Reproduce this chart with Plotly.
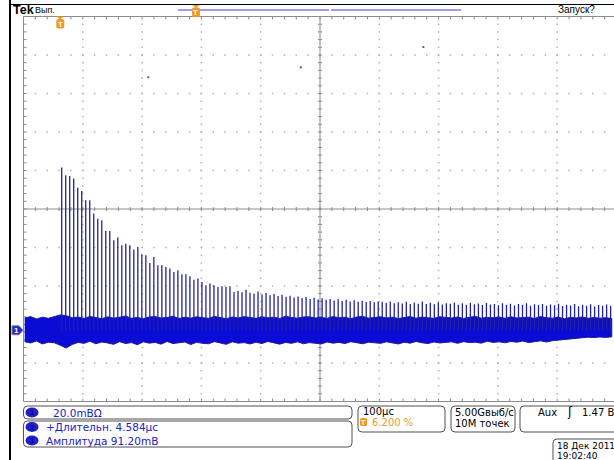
import numpy as np
import plotly.graph_objects as go

W, H = 614, 460

# ---- scope settings (as shown in the readouts) ----
mv_per_div = 20.0          # CH1 vertical scale, mV/div
us_per_div = 100.0         # horizontal scale, µs/div
trigger_pos_pct = 6.2      # trigger position, % of record
ch1_position_div = -3.15   # CH1 ground level, divisions from centre

# ---- acquired waveform ----
first_pulse_us = 2.4
pulse_period_us = 6.757
pulse_peaks_mv = [
    84.5, 80.5, 80.2, 78.8, 74.1, 72.4, 67.5, 67.5, 60.6, 58.0,
    57.1, 51.6, 51.6, 46.8, 48.2, 44.2, 45.0, 44.2, 41.9, 43.3,
    39.5, 39.0, 35.0, 38.1, 33.8, 33.8, 32.9, 32.1, 30.3, 31.2,
    29.1, 29.1, 28.1, 26.3, 26.9, 25.1, 23.4, 24.3, 23.4, 22.5,
    22.9, 22.5, 22.9, 19.9, 20.5, 19.8, 21.0, 19.5, 19.0, 20.2,
    18.6, 19.4, 18.2, 18.8, 17.8, 18.5, 17.4, 18.0, 17.0, 17.6,
    16.8, 17.3, 16.2, 16.9, 16.0, 16.6, 15.8, 16.3, 15.5, 16.1,
    15.2, 15.9, 15.0, 15.6, 14.8, 15.4, 14.7, 15.2, 14.5, 15.0,
    14.8, 14.2, 15.0, 14.0, 14.6, 13.9, 14.8, 13.7, 14.4, 13.8,
    14.9, 13.6, 14.3, 13.5, 14.6, 13.4, 14.1, 13.8, 14.4, 13.3,
    14.0, 13.2, 14.3, 13.5, 13.9, 13.1, 14.2, 13.4, 13.7, 13.0,
    14.1, 13.3, 13.8, 12.9, 13.6, 13.2, 14.0, 12.8, 13.5, 13.1,
    13.7, 12.7, 13.4, 13.0, 13.8, 12.6, 13.3, 12.9, 13.6, 12.5,
    13.2, 12.8, 13.5, 12.4, 13.1, 12.7, 13.4, 12.6,
]

noise_t_us = list(range(-60, 931, 10))
noise_hi_mv = [
    6.4, 7.1, 5.9, 6.8, 6.2, 7.3, 8.0, 7.6, 6.5, 6.9,
    6.1, 7.2, 6.6, 6.0, 7.0, 6.3, 6.8, 7.4, 6.2, 6.7,
    6.0, 6.9, 7.1, 6.4, 6.6, 7.3, 6.1, 6.8, 6.3, 7.0,
    6.5, 6.2, 7.2, 6.7, 6.0, 6.9, 6.4, 7.1, 6.6, 6.2,
    7.0, 6.5, 6.8, 6.1, 7.3, 6.6, 6.3, 6.9, 7.0, 6.4,
    6.7, 6.2, 7.1, 6.5, 6.8, 6.0, 6.9, 7.2, 6.3, 6.6,
    7.0, 6.4, 6.8, 6.1, 6.7, 7.1, 6.3, 6.9, 6.5, 6.2,
    7.0, 6.6, 6.4, 6.9, 6.1, 6.8, 7.2, 6.3, 6.7, 6.5,
    6.9, 6.2, 7.0, 6.4, 6.6, 6.8, 6.1, 7.1, 6.5, 6.3,
    6.8, 6.0, 6.7, 6.4, 6.9, 6.2, 6.6, 6.3, 6.5, 6.1,
]
noise_lo_mv = [
    -5.9, -6.6, -5.6, -7.1, -6.2, -6.5, -7.8, -9.2, -7.4, -6.3,
    -6.8, -5.7, -7.0, -6.1, -6.6, -7.3, -5.9, -6.9, -6.4, -7.5,
    -6.0, -6.7, -6.3, -7.2, -5.8, -6.9, -6.5, -6.1, -7.4, -6.2,
    -6.8, -7.0, -5.9, -6.6, -7.3, -6.0, -6.7, -6.4, -7.1, -6.2,
    -6.9, -5.8, -6.5, -7.2, -6.3, -6.8, -6.0, -7.0, -6.4, -6.6,
    -7.1, -6.1, -6.7, -6.3, -6.9, -5.9, -6.6, -7.0, -6.2, -6.5,
    -6.8, -6.0, -6.4, -7.1, -6.2, -6.7, -5.8, -6.5, -6.9, -6.1,
    -6.6, -6.3, -6.0, -6.8, -5.9, -6.4, -6.2, -6.7, -5.7, -6.3,
    -6.0, -6.5, -5.8, -6.2, -5.6, -6.4, -5.9, -5.5, -6.1, -5.4,
    -5.2, -4.8, -4.4, -4.1, -3.9, -3.6, -3.8, -3.5, -3.7, -3.4,
]

glitch_t_us = [148.4, 405.6, 612.3]
glitch_mv = [131.5, 136.7, 147.1]

# ---- screen geometry (pixels) ----
GX0, GY0 = 23.5, 16.5          # graticule top-left
DIV_W, DIV_H = 59.3, 38.5      # one division
GY1 = GY0 + 10 * DIV_H

def px(x):
    return x / W

def py(y):
    return 1 - y / H

x_dom = [px(GX0), 1.0]
y_dom = [py(GY1), py(GY0)]
div_right = -5 + (W - GX0) / DIV_W

t_left = -trigger_pos_pct / 100 * 10 * us_per_div
t_range = [t_left, t_left + (div_right + 5) * us_per_div]
v_range = [(-5 - ch1_position_div) * mv_per_div, (5 - ch1_position_div) * mv_per_div]

GRID = "#b2b2b2"
AXIS = "#8c8c8c"
fig = go.Figure()

# graticule dots along the major division lines
minor = np.round(np.arange(-4.8, 4.81, 0.2), 3)
dx, dy = [], []
for m in range(-4, 5):
    if m == 0:
        continue
    for s in minor:
        dx += [m, s]
        dy += [s, m]
fig.add_trace(go.Scatter(x=dx, y=dy, mode="markers",
                         marker=dict(symbol="square", size=1.5, color=GRID, line_width=0),
                         hoverinfo="skip", showlegend=False, xaxis="x", yaxis="y"))

# tick marks on centre cross and border
tx, ty = [], []
hx = 2.0 / DIV_W
hy = 2.0 / DIV_H
bx = 3.0 / DIV_W
by = 3.0 / DIV_H
for s in minor:
    tx += [s, s, None]; ty += [-hy, hy, None]
    tx += [-hx, hx, None]; ty += [s, s, None]
    tx += [s, s, None]; ty += [5, 5 - by, None]
    tx += [s, s, None]; ty += [-5, -5 + by, None]
    tx += [-5, -5 + bx, None]; ty += [s, s, None]
fig.add_trace(go.Scatter(x=tx, y=ty, mode="lines", line=dict(color=AXIS, width=1),
                         hoverinfo="skip", showlegend=False, xaxis="x", yaxis="y"))
fig.add_trace(go.Scatter(x=[0, 0, None, -5, 5], y=[-5, 5, None, 0, 0], mode="lines",
                         line=dict(color=AXIS, width=1), hoverinfo="skip",
                         showlegend=False, xaxis="x", yaxis="y"))

# ---- waveform (overlay axes in µs / mV) ----
band_x = noise_t_us + noise_t_us[::-1]
band_y = noise_hi_mv + noise_lo_mv[::-1]
fig.add_trace(go.Scatter(x=band_x, y=band_y, mode="lines", fill="toself",
                         fillcolor="#0b0bd6", line=dict(color="#1d1d96", width=1),
                         hoverinfo="skip", showlegend=False, xaxis="x2", yaxis="y2"))

pt = first_pulse_us + pulse_period_us * np.arange(len(pulse_peaks_mv))
sx, sy = [], []
for t, v in zip(pt, pulse_peaks_mv):
    sx += [t, t, None]
    sy += [0, v, None]
fig.add_trace(go.Scatter(x=sx, y=sy, mode="lines", line=dict(color="#22229e", width=1.3),
                         hoverinfo="skip", showlegend=False, xaxis="x2", yaxis="y2"))
fig.add_trace(go.Scatter(x=glitch_t_us, y=glitch_mv, mode="markers",
                         marker=dict(symbol="square", size=2, color="#5a5a7a", line_width=0),
                         hoverinfo="skip", showlegend=False, xaxis="x2", yaxis="y2"))

# ---- screen furniture ----
shapes = []
annots = []

def rrect(x0, y0, x1, y1, r=4):
    rx, ry = r / W, r / H
    X0, X1, Y0, Y1 = px(x0), px(x1), py(y0), py(y1)
    return (f"M {X0+rx},{Y0} L {X1-rx},{Y0} Q {X1},{Y0} {X1},{Y0-ry} "
            f"L {X1},{Y1+ry} Q {X1},{Y1} {X1-rx},{Y1} L {X0+rx},{Y1} "
            f"Q {X0},{Y1} {X0},{Y1+ry} L {X0},{Y0-ry} Q {X0},{Y0} {X0+rx},{Y0} Z")

def line(x0, y0, x1, y1, color, width=1):
    shapes.append(dict(type="line", xref="paper", yref="paper", x0=px(x0), y0=py(y0),
                       x1=px(x1), y1=py(y1), line=dict(color=color, width=width)))

FONT = "DejaVu Sans"

def text(x, y, s, color="black", size=10.5, anchor="left", bold=False, family=FONT):
    annots.append(dict(x=px(x), y=py(y), xref="paper", yref="paper", text=f"<b>{s}</b>" if bold else s,
                       showarrow=False, xanchor=anchor, yanchor="middle",
                       font=dict(family=family, size=size, color=color)))

# frame
line(10, 0, 10, H, "black", 2)
line(10, 4.5, W, 4.5, "black", 1)
shapes.append(dict(type="rect", xref="paper", yref="paper", x0=px(GX0), y0=py(GY1),
                   x1=px(W + 5), y1=py(GY0), line=dict(color=AXIS, width=1)))

# header
text(10.5, 10, "Tek", size=12.5, bold=True, family="Liberation Sans")
text(32.5, 9.5, "Вып.", size=9, family="Liberation Sans")
text(556, 9.5, "Запуск?", size=10, family="Liberation Sans")
line(178, 10, 329, 10, "#9d9df0", 2)
line(331, 10, 461, 10, "#9d9df0", 2)
trig_x = GX0 + trigger_pos_pct / 100 * 10 * DIV_W
for cx, cy0 in [(196, 5), (trig_x, 16.5)]:
    shapes.append(dict(type="path", xref="paper", yref="paper",
                       path=f"M {px(cx-3.5)},{py(cy0)} L {px(cx+3.5)},{py(cy0)} L {px(cx)},{py(cy0+3)} Z",
                       fillcolor="#f39a1e", line=dict(width=0)))
    shapes.append(dict(type="path", xref="paper", yref="paper", path=rrect(cx - 4, cy0 + 2.5, cx + 4, cy0 + 12, 2),
                       fillcolor="#f39a1e", line=dict(width=0)))
    text(cx, cy0 + 7.5, "T", color="white", size=8, anchor="center", bold=True, family="Liberation Sans")

# CH1 ground marker
gy_px = GY0 + (5 - ch1_position_div) * DIV_H
shapes.append(dict(type="path", xref="paper", yref="paper",
                   path=(f"M {px(12)},{py(gy_px-4.5)} L {px(19)},{py(gy_px-4.5)} L {px(23)},{py(gy_px)} "
                         f"L {px(19)},{py(gy_px+4.5)} L {px(12)},{py(gy_px+4.5)} Z"),
                   fillcolor="#2727d2", line=dict(color="#808080", width=1)))
text(16.5, gy_px, "1", color="white", size=8, anchor="center", bold=True, family="Liberation Sans")

# readout boxes
BOX = "#505050"
for b in [(23.5, 406, 352, 419), (23.5, 421, 352, 447), (358, 406, 445, 432),
          (451, 406, 515, 432), (520, 406, 640, 432), (553, 439, 640, 475)]:
    shapes.append(dict(type="path", xref="paper", yref="paper", path=rrect(*b, r=4),
                       line=dict(color=BOX, width=1), fillcolor="rgba(0,0,0,0)"))

BLUE = "#2121c4"
for cy in (412.5, 427, 440.5):
    shapes.append(dict(type="circle", xref="paper", yref="paper", x0=px(25.5), x1=px(38.5),
                       y0=py(cy - 5), y1=py(cy + 5), fillcolor="#1f1fcf", line=dict(width=0)))
    text(32, cy, "1", color="#0a0a60", size=8, anchor="center", bold=True, family="Liberation Sans")
text(51, 412.5, "20.0mВΩ", color=BLUE)
text(44, 427, "+Длительн. 4.584µс", color=BLUE)
text(44, 440.5, "Амплитуда 91.20mВ", color=BLUE)

text(361, 411.5, "100µс", size=10)
shapes.append(dict(type="path", xref="paper", yref="paper", path=rrect(360, 418, 367, 426, 1.5),
                   fillcolor="#f39a1e", line=dict(width=0)))
text(363.5, 422, "T", color="white", size=7, anchor="center", bold=True, family="Liberation Sans")
text(370, 422.5, "6.200 %", color="#f39a1e", size=10)
text(453, 412, "5.00Gвыб/с", size=10)
text(453, 423, "10M точек", size=10)
text(536, 412, "Aux", size=10)
text(565, 412, "ʃ", size=12)
text(580, 412, "1.47 В", size=10)
text(555, 446, "18 Дек 2011", size=9)
text(555, 455.5, "19:02:40", size=9)

fig.update_layout(
    width=W, height=H, margin=dict(l=0, r=0, t=0, b=0),
    paper_bgcolor="white", plot_bgcolor="white", showlegend=False,
    xaxis=dict(domain=x_dom, range=[-5, div_right], visible=False, fixedrange=True),
    yaxis=dict(domain=y_dom, range=[-5, 5], visible=False, fixedrange=True),
    xaxis2=dict(overlaying="x", range=t_range, visible=False),
    yaxis2=dict(overlaying="y", range=v_range, visible=False),
    shapes=shapes, annotations=annots,
)
fig.write_html("out.html")
